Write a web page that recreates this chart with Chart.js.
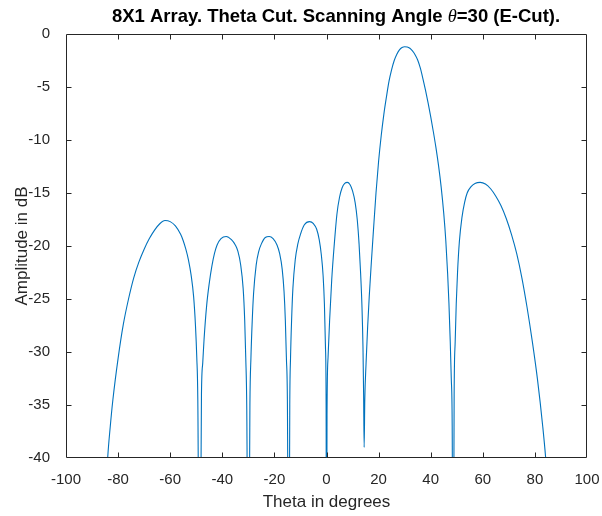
<!DOCTYPE html>
<html>
<head>
<meta charset="utf-8">
<title>8X1 Array Theta Cut</title>
<script src="https://cdn.jsdelivr.net/npm/chart.js@4.4.1/dist/chart.umd.min.js"></script>
<style>
  html, body { margin: 0; padding: 0; background: #fff; }
  canvas { display: block; }
</style>
</head>
<body>
<canvas id="patternChart" width="602" height="516"></canvas>
<script>
// Pattern values: theta in degrees, amplitude in dB
// (nulls that fall below -40 dB are clipped by the plot area)
const theta = [
  // sidelobe near -62
  -85, -84, -83, -82, -80, -78, -76, -74, -72, -70, -68, -66, -64, -62, -60, -58, -56, -55, -54, -53, -52, -51, -50.3, -49.8, -49.4, -48.7,
  // sidelobe near -38
  -48.0, -47.5, -47.0, -46.0, -45.0, -44.0, -43.0, -42.0, -40.5, -38.5, -36.5, -35.0, -34.0, -33.0, -32.0, -31.4, -31.0, -30.6, -30.0,
  // sidelobe near -22
  -29.4, -29.0, -28.5, -28.0, -27.0, -26.0, -25.0, -23.5, -22.0, -20.5, -19.0, -18.0, -17.0, -16.3, -15.8, -15.4, -15.0, -14.5,
  // sidelobe near -6
  -14.1, -13.8, -13.4, -12.9, -12.0, -11.0, -10.0, -8.5, -6.5, -5.0, -3.8, -2.8, -2.0, -1.3, -0.8, -0.4, -0.15, 0,
  // sidelobe near 8
  0.2, 0.6, 1.2, 2.0, 3.0, 4.0, 5.0, 6.0, 7.0, 8.0, 9.0, 10.0, 11.0, 11.8, 12.5, 13.1, 13.6, 14.0, 14.25, 14.45,
  // main beam at 30
  14.7, 15.2, 15.8, 16.4, 17.2, 18.0, 19.0, 20.0, 21.0, 22.0, 23.0, 24.0, 25.0, 26.0, 27.0, 28.0, 29.0, 30.0,
  31.0, 32.0, 33.0, 34.0, 35.0, 36.0, 37.0, 38.0, 39.0, 40.0, 41.0, 42.0, 43.0, 44.0, 45.0, 45.8, 46.5, 47.0, 47.5, 47.9, 48.25, 48.6,
  // sidelobe near 59
  49.0, 49.4, 49.8, 50.3, 51.0, 52.0, 53.0, 54.0, 55.5, 57.0, 59.0, 61.0, 63.0, 65.0, 67.0, 69.0, 71.0, 73.0, 75.0, 77.0, 79.0, 81.0, 83.0, 84.3, 85.5
];
const amplitude = [
  -45, -40, -37, -34.5, -30.6, -27.4, -25.0, -23.0, -21.5, -20.3, -19.3, -18.5, -17.9, -17.6, -17.7, -18.1, -18.9, -19.5, -20.3, -21.3, -22.7, -24.8, -27.5, -30.5, -34.5, -60,
  -34, -31, -28.8, -25.6, -23.5, -21.9, -20.7, -19.9, -19.3, -19.1, -19.4, -19.9, -20.5, -21.7, -24.0, -27, -30.5, -35.5, -60,
  -35, -30.5, -27, -24.5, -21.8, -20.5, -19.8, -19.2, -19.1, -19.3, -19.9, -20.7, -22.2, -24.3, -27, -30.5, -35, -60,
  -35, -30.5, -27, -24, -21.3, -19.8, -18.9, -18.0, -17.7, -17.9, -18.4, -19.4, -20.8, -22.8, -25.5, -29.5, -35, -60,
  -36, -30.5, -27, -23.2, -19.8, -17.0, -15.4, -14.5, -14.1, -14.0, -14.2, -14.8, -15.9, -17.5, -19.8, -22.6, -25.6, -29.5, -34, -39,
  -34.5, -31, -27.6, -24.8, -21.6, -18.6, -15.0, -12.0, -9.6, -7.6, -5.95, -4.45, -3.35, -2.5, -1.9, -1.5, -1.28, -1.2,
  -1.22, -1.35, -1.6, -1.95, -2.45, -3.2, -4.2, -5.3, -6.5, -7.8, -9.2, -10.7, -12.4, -14.4, -16.9, -19.5, -22.6, -25.4, -29, -32.5, -37, -60,
  -34, -29, -25.5, -22.5, -19.6, -17.3, -15.9, -15.0, -14.4, -14.1, -14.0, -14.15, -14.6, -15.3, -16.2, -17.4, -18.9, -20.7, -23.0, -25.8, -29.0, -32.6, -37.0, -40.5, -45
];
const xLimits = [-100, 100];
const yLimits = [-40, 0];
const xStep = 20;
const yStep = 5;

const titleParts = [
  { text: "8X1 Array. Theta Cut. Scanning Angle ", font: "bold 18.5px 'Liberation Sans', Arial, sans-serif" },
  { text: "θ", font: "italic 18.5px 'Liberation Serif', 'Times New Roman', serif" },
  { text: "=30 (E-Cut).", font: "bold 18.5px 'Liberation Sans', Arial, sans-serif" }
];
const xLabel = "Theta in degrees";
const yLabel = "Amplitude in dB";

const axisColor = "#262626";
const labelFont = "17px 'Liberation Sans', Arial, sans-serif";
const tickFont = { size: 15, family: "'Liberation Sans', Arial, sans-serif" };

// box, inward tick marks on all four sides, titles
const matlabAxes = {
  id: "matlabAxes",
  afterDraw(chart) {
    const { ctx, chartArea: a, scales: { x, y } } = chart;
    const L = Math.round(a.left) + 0.5, R = Math.round(a.right) - 0.5;
    const T = Math.round(a.top) + 0.5, B = Math.round(a.bottom) - 0.5;
    const tick = 5;
    ctx.save();
    ctx.strokeStyle = axisColor;
    ctx.lineWidth = 1;
    ctx.beginPath();
    ctx.rect(L, T, R - L, B - T);
    x.ticks.forEach(t => {
      const px = Math.round(x.getPixelForValue(t.value)) + 0.5;
      if (px <= L + 1 || px >= R - 1) return;
      ctx.moveTo(px, B); ctx.lineTo(px, B - tick);
      ctx.moveTo(px, T); ctx.lineTo(px, T + tick);
    });
    y.ticks.forEach(t => {
      const py = Math.round(y.getPixelForValue(t.value)) + 0.5;
      if (py <= T + 1 || py >= B - 1) return;
      ctx.moveTo(L, py); ctx.lineTo(L + tick, py);
      ctx.moveTo(R, py); ctx.lineTo(R - tick, py);
    });
    ctx.stroke();

    ctx.fillStyle = "#000";
    ctx.textBaseline = "middle";
    let total = 0;
    titleParts.forEach(p => { ctx.font = p.font; total += ctx.measureText(p.text).width; });
    let tx = 336 - total / 2;
    ctx.textAlign = "left";
    titleParts.forEach(p => {
      ctx.font = p.font;
      ctx.fillText(p.text, tx, 17);
      tx += ctx.measureText(p.text).width;
    });

    ctx.fillStyle = axisColor;
    ctx.font = labelFont;
    ctx.textAlign = "center";
    ctx.fillText(xLabel, (a.left + a.right) / 2, 502);
    ctx.translate(22, (a.top + a.bottom) / 2);
    ctx.rotate(-Math.PI / 2);
    ctx.fillText(yLabel, 0, 0);
    ctx.restore();
  }
};

new Chart(document.getElementById("patternChart"), {
  type: "line",
  data: {
    datasets: [{
      data: theta.map((t, i) => ({ x: t, y: amplitude[i] })),
      borderColor: "#0072BD",
      borderWidth: 1.1,
      pointRadius: 0,
      fill: false,
      cubicInterpolationMode: "monotone"
    }]
  },
  options: {
    responsive: false,
    animation: false,
    layout: { padding: { top: 34, right: 15, left: 0, bottom: 0 } },
    plugins: { legend: { display: false }, tooltip: { enabled: false } },
    scales: {
      x: {
        type: "linear",
        min: xLimits[0],
        max: xLimits[1],
        grid: { display: false },
        border: { display: false },
        ticks: { stepSize: xStep, padding: 5, color: axisColor, font: tickFont, maxRotation: 0 },
        afterFit: s => { s.height = 58; s.paddingLeft = 0; s.paddingRight = 0; }
      },
      y: {
        type: "linear",
        min: yLimits[0],
        max: yLimits[1],
        grid: { display: false },
        border: { display: false },
        ticks: { stepSize: yStep, padding: 8, color: axisColor, font: tickFont },
        afterFit: s => { s.width = 66; s.paddingTop = 0; s.paddingBottom = 0; }
      }
    }
  },
  plugins: [matlabAxes]
});
</script>
</body>
</html>
